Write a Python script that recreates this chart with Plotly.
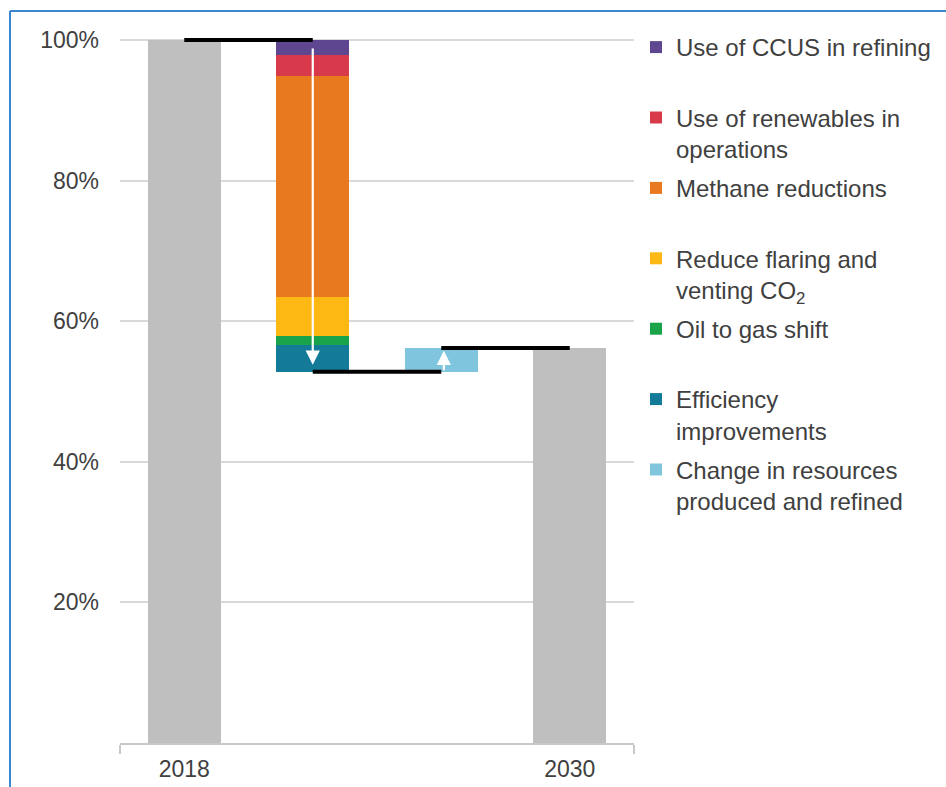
import plotly.graph_objects as go

# ---- data ----
positions = ["2018", "Reductions", "Change", "2030"]
labelled_positions = ["2018", "2030"]
start_value = 100.0
end_value = 56.2

reduction_names = [
    "Use of CCUS in refining",
    "Use of renewables in<br>operations",
    "Methane reductions",
    "Reduce flaring and<br>venting CO<sub>2</sub>",
    "Oil to gas shift",
    "Efficiency<br>improvements",
]
reduction_values = [2.1, 3.0, 31.4, 5.6, 1.3, 3.8]
reduction_colors = ["#5e4790", "#d83a4c", "#e8791f", "#fdb813", "#19a34a", "#137b98"]

change_name = "Change in resources<br>produced and refined"
change_value = 3.4
change_color = "#80c5de"

gray = "#bfbfbf"
idx = {c: i for i, c in enumerate(positions)}
bar_w = 0.57

fig = go.Figure()

# totals
fig.add_trace(go.Bar(x=[idx["2018"]], y=[start_value], base=[0], width=bar_w,
                     marker=dict(color=gray, line=dict(width=0)), showlegend=False, hoverinfo="skip"))
fig.add_trace(go.Bar(x=[idx["2030"]], y=[end_value], base=[0], width=bar_w,
                     marker=dict(color=gray, line=dict(width=0)), showlegend=False, hoverinfo="skip"))

# reductions (stacked from the top down)
top = start_value
for i, (name, val, col) in enumerate(zip(reduction_names, reduction_values, reduction_colors)):
    name_padded = name if "<br>" in name else name + "<br> "
    fig.add_trace(go.Bar(x=[idx["Reductions"]], y=[val], base=[top - val], width=bar_w,
                         name=name_padded, legendgroup=f"g{i}",
                         marker=dict(color=col, line=dict(width=0))))
    top -= val
bottom = top

# change
fig.add_trace(go.Bar(x=[idx["Change"]], y=[change_value], base=[bottom], width=bar_w,
                     name=change_name, legendgroup="gchange",
                     marker=dict(color=change_color, line=dict(width=0))))
after_change = bottom + change_value

# connector lines
for xs, yv in [((idx["2018"], idx["Reductions"]), start_value),
               ((idx["Reductions"], idx["Change"]), bottom),
               ((idx["Change"], idx["2030"]), after_change)]:
    fig.add_trace(go.Scatter(x=list(xs), y=[yv, yv], mode="lines",
                             line=dict(color="black", width=4), showlegend=False,
                             hoverinfo="skip", cliponaxis=False))

# arrows
fig.add_annotation(x=idx["Reductions"], y=bottom + 1.0, ax=idx["Reductions"], ay=start_value - 1.0,
                   xref="x", yref="y", axref="x", ayref="y", text="", showarrow=True,
                   arrowhead=2, arrowsize=1.3, arrowwidth=2.2, arrowcolor="white", standoff=0)
fig.add_annotation(x=idx["Change"] + 0.02, y=after_change - 0.4, ax=idx["Change"] + 0.02, ay=bottom,
                   xref="x", yref="y", axref="x", ayref="y", text="", showarrow=True,
                   arrowhead=2, arrowsize=1.3, arrowwidth=2.2, arrowcolor="white", standoff=0)

# frame lines (left & top border)
L, R, T, B = 120, 312, 36, 44
W, H = 946, 787
pw, ph = W - L - R, H - T - B
def px_x(p): return (p - L) / pw
def px_y(p): return (H - B - p) / ph
fig.add_shape(type="line", xref="paper", yref="paper", x0=px_x(10), x1=px_x(10),
              y0=px_y(787), y1=px_y(11), line=dict(color="#3b87d2", width=2))
fig.add_shape(type="line", xref="paper", yref="paper", x0=px_x(10), x1=px_x(946),
              y0=px_y(11), y1=px_y(11), line=dict(color="#3b87d2", width=2))

fig.update_layout(
    width=W, height=H,
    margin=dict(l=L, r=R, t=T, b=B, autoexpand=False),
    plot_bgcolor="white", paper_bgcolor="white",
    barmode="overlay", bargap=0,
    font=dict(family="Liberation Sans, Arial, sans-serif", color="#404040"),
    showlegend=True,
    legend=dict(x=px_x(636), y=px_y(25), xanchor="left", yanchor="top",
                font=dict(size=24, color="#404040"), valign="top",
                traceorder="grouped", bgcolor="rgba(0,0,0,0)", itemwidth=30,
                tracegroupgap=5, maxheight=760),
)
fig.update_xaxes(
    range=[-0.5, 3.5], tickmode="array", tickvals=[idx[p] for p in labelled_positions],
    ticktext=labelled_positions, ticks="", showgrid=False, zeroline=False, automargin=False,
    showline=True, linecolor="#c8c8c8", linewidth=2,
    tickfont=dict(size=23, color="#404040"), ticklabelstandoff=4,
    minor=dict(tickmode="array", tickvals=[-0.5, 3.5], ticks="outside", ticklen=9,
               tickcolor="#c8c8c8", tickwidth=1.5, showgrid=False),
)
fig.update_yaxes(
    range=[0, 100.57], tickmode="array", tickvals=[20, 40, 60, 80, 100],
    ticktext=["20%", "40%", "60%", "80%", "100%"], ticks="", automargin=False,
    showgrid=True, gridcolor="#d9d9d9", gridwidth=1.5, zeroline=False, showline=False,
    tickfont=dict(size=23, color="#404040"), ticklabelstandoff=20,
)

fig.write_html("out.html")
